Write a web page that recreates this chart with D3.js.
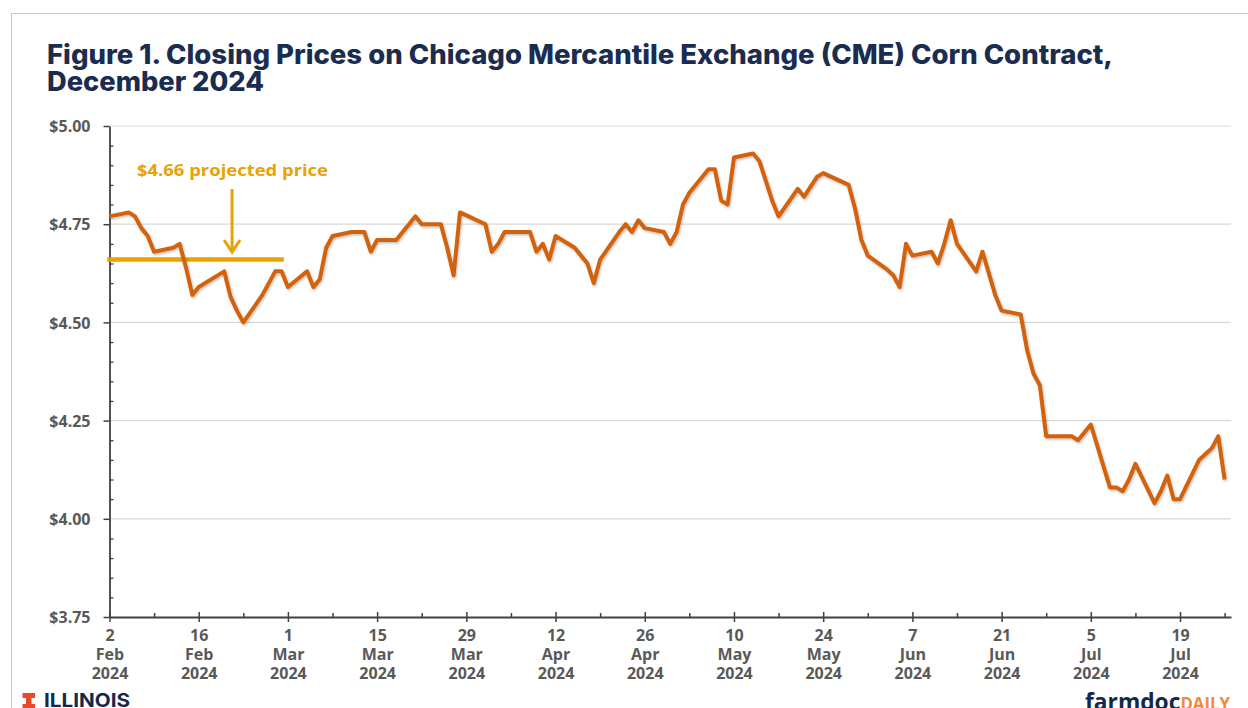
<!DOCTYPE html>
<html>
  <head>
    <meta charset="utf-8">
    <title>Closing Prices CME Corn December 2024</title>
    <script src="https://d3js.org/d3.v7.min.js"></script>
    <style>
      html, body { margin: 0; padding: 0; background: #fff; }
      svg { display: block; }
      .tick-label { font-family: "Open Sans", sans-serif; font-weight: 700; font-size: 16px; fill: #595959; }
    </style>
  </head>
  <body>
    <svg></svg>

    <script>
      // Closing prices, by trading day
      var febDates = ["02","05","06","07","08","09","12","13","14","15","16","20","21","22","23","26","27","28","29"];
      var febPrices = [4.77,4.78,4.77,4.74,4.72,4.68,4.69,4.70,4.64,4.57,4.59,4.63,4.565,4.53,4.50,4.57,4.60,4.63,4.63];

      var marDates = ["01","04","05","06","07","08","11","12","13","14","15","18","19","20","21","22","25","26","27","28"];
      var marPrices = [4.59,4.63,4.59,4.61,4.69,4.72,4.73,4.73,4.73,4.68,4.71,4.71,4.73,4.75,4.77,4.75,4.75,4.69,4.62,4.78];

      var aprDates = ["01","02","03","04","05","08","09","10","11","12","15","16","17","18","19","22","23","24","25","26","29","30"];
      var aprPrices = [4.75,4.68,4.70,4.73,4.73,4.73,4.68,4.70,4.66,4.72,4.69,4.67,4.65,4.60,4.66,4.73,4.75,4.73,4.76,4.74,4.73,4.70];

      var mayDates = ["01","02","03","06","07","08","09","10","13","14","15","16","17","20","21","22","23","24","28","29","30","31"];
      var mayPrices = [4.73,4.80,4.83,4.89,4.89,4.81,4.80,4.92,4.93,4.91,4.86,4.81,4.77,4.84,4.82,4.845,4.87,4.88,4.85,4.79,4.71,4.67];

      var junDates = ["03","04","05","06","07","10","11","12","13","14","17","18","20","21","24","25","26","27","28"];
      var junPrices = [4.635,4.62,4.59,4.70,4.67,4.68,4.65,4.70,4.76,4.70,4.63,4.68,4.57,4.53,4.52,4.43,4.37,4.34,4.21];

      var julDates = ["01","02","03","05","08","09","10","11","12","15","16","17","18","19","22","23","24","25","26"];
      var julPrices = [4.21,4.21,4.20,4.24,4.08,4.08,4.07,4.10,4.14,4.04,4.07,4.11,4.05,4.05,4.15,4.165,4.18,4.21,4.10];

      // Projected price line (February average)
      var projectedPrice = 4.66;
      var projectedDates = ["2024-02-02", "2024-02-29"];

      // Axis ticks
      var yTicks = [3.75, 4.00, 4.25, 4.50, 4.75, 5.00];
      var xTickDates = ["2024-02-02","2024-02-16","2024-03-01","2024-03-15","2024-03-29","2024-04-12","2024-04-26",
                        "2024-05-10","2024-05-24","2024-06-07","2024-06-21","2024-07-05","2024-07-19"];
      var xDomain = ["2024-02-02", "2024-07-27"];

      var parse = d3.timeParse("%Y-%m-%d");
      var months = [["02", febDates, febPrices], ["03", marDates, marPrices], ["04", aprDates, aprPrices],
                    ["05", mayDates, mayPrices], ["06", junDates, junPrices], ["07", julDates, julPrices]];
      var data = [];
      months.forEach(function(m) {
        m[1].forEach(function(d, i) {
          data.push({ date: parse("2024-" + m[0] + "-" + d), price: m[2][i] });
        });
      });

      var W = 1248, H = 708;
      var svg = d3.select("svg").attr("width", W).attr("height", H);

      // frame
      svg.append("rect")
        .attr("x", 11.5).attr("y", 13.5)
        .attr("width", 1300).attr("height", 800)
        .attr("fill", "none").attr("stroke", "#c6c6c6").attr("stroke-width", 1);

      // title
      var title = svg.append("g")
        .attr("font-family", "Inter, 'Open Sans', sans-serif")
        .attr("font-weight", 800)
        .attr("font-size", 26.5)
        .attr("fill", "#1b2c51");
      title.append("text").attr("x", 47).attr("y", 64)
        .text("Figure 1. Closing Prices on Chicago Mercantile Exchange (CME) Corn Contract,")
        .attr("textLength", 1066).attr("lengthAdjust", "spacingAndGlyphs");
      title.append("text").attr("x", 47).attr("y", 91)
        .text("December 2024")
        .attr("textLength", 217).attr("lengthAdjust", "spacingAndGlyphs");

      var x = d3.scaleTime()
        .domain(xDomain.map(parse))
        .range([109.5, 1231]);
      var y = d3.scaleLinear()
        .domain([3.75, 5.00])
        .range([617, 126]);

      // gridlines
      svg.append("g").selectAll("line")
        .data(yTicks.slice(1))
        .enter().append("line")
          .attr("x1", x.range()[0]).attr("x2", x.range()[1])
          .attr("y1", function(d) { return y(d); })
          .attr("y2", function(d) { return y(d); })
          .attr("stroke", "#d9d9d9").attr("stroke-width", 1.2);

      // y axis
      var yMinor = d3.range(3.80, 5.0, 0.05).filter(function(v) {
        return Math.abs(v * 4 - Math.round(v * 4)) > 0.01;
      });
      var yAxisMinor = svg.append("g")
        .attr("transform", "translate(" + x.range()[0] + ",0)")
        .call(d3.axisRight(y).tickValues(yMinor).tickSize(4).tickFormat(""));
      yAxisMinor.select(".domain").remove();
      yAxisMinor.selectAll("line").attr("stroke", "#404040").attr("stroke-width", 1.3);

      var yAxis = svg.append("g")
        .attr("transform", "translate(" + x.range()[0] + ",0)")
        .call(d3.axisLeft(y).tickValues(yTicks).tickSize(6).tickSizeOuter(0)
          .tickPadding(13).tickFormat(function(d) { return "$" + d.toFixed(2); }));
      yAxis.select(".domain").attr("stroke", "#404040").attr("stroke-width", 1.8);
      yAxis.selectAll(".tick line").attr("stroke", "#404040").attr("stroke-width", 1.5);
      yAxis.selectAll(".tick text").attr("class", "tick-label").attr("dy", "0.36em");

      // x axis
      var xMajor = xTickDates.map(parse);
      var xMinor = xMajor.map(function(d) { return d3.timeDay.offset(d, 7); });
      var xAxisMinor = svg.append("g")
        .attr("transform", "translate(0," + y(3.75) + ")")
        .call(d3.axisTop(x).tickValues(xMinor).tickSize(4).tickFormat(""));
      xAxisMinor.select(".domain").remove();
      xAxisMinor.selectAll("line").attr("stroke", "#404040").attr("stroke-width", 1.5);

      var xAxisUp = svg.append("g")
        .attr("transform", "translate(0," + y(3.75) + ")")
        .call(d3.axisTop(x).tickValues(xMajor).tickSize(5).tickFormat(""));
      xAxisUp.select(".domain").remove();
      xAxisUp.selectAll("line").attr("stroke", "#404040").attr("stroke-width", 1.5);

      var xAxis = svg.append("g")
        .attr("transform", "translate(0," + y(3.75) + ")")
        .call(d3.axisBottom(x).tickValues(xMajor).tickSize(5).tickSizeOuter(0).tickFormat(""));
      xAxis.select(".domain").attr("stroke", "#404040").attr("stroke-width", 1.8);
      xAxis.selectAll(".tick line").attr("stroke", "#404040").attr("stroke-width", 1.5);

      // three-line date labels, one text per line
      var fmtDay = d3.timeFormat("%-d"), fmtMon = d3.timeFormat("%b"), fmtYear = d3.timeFormat("%Y");
      var rows = [[24, fmtDay], [43, fmtMon], [62, fmtYear]];
      rows.forEach(function(r) {
        xAxis.selectAll(".tick").append("text")
          .attr("class", "tick-label")
          .attr("text-anchor", "middle")
          .attr("x", 0).attr("y", r[0])
          .text(function(d) { return r[1](d); });
      });

      // projected price line
      svg.append("line")
        .attr("x1", x(parse(projectedDates[0])))
        .attr("x2", x(parse(projectedDates[1])))
        .attr("y1", y(projectedPrice)).attr("y2", y(projectedPrice))
        .attr("stroke", "#e8a202").attr("stroke-width", 4.5)
        .attr("stroke-linecap", "square");

      // shadow filter for the price line
      var defs = svg.append("defs");
      var f = defs.append("filter").attr("id", "shadow")
        .attr("x", "-5%").attr("y", "-5%").attr("width", "110%").attr("height", "120%");
      f.append("feDropShadow").attr("dx", 1).attr("dy", 1.5).attr("stdDeviation", 1.2)
        .attr("flood-color", "#000").attr("flood-opacity", 0.25);

      var line = d3.line()
        .x(function(d) { return x(d.date); })
        .y(function(d) { return y(d.price); });

      svg.append("path")
        .datum(data)
        .attr("d", line)
        .attr("fill", "none")
        .attr("stroke", "#d2620a")
        .attr("stroke-width", 4)
        .attr("stroke-linejoin", "round")
        .attr("filter", "url(#shadow)");

      // annotation
      var arrowX = x(parse("2024-02-21")) + 1.5;
      svg.append("text")
        .attr("x", 137).attr("y", 176)
        .attr("font-family", "'Open Sans', sans-serif")
        .attr("font-weight", 700).attr("font-size", 16.5)
        .attr("fill", "#e8a202")
        .attr("textLength", 191).attr("lengthAdjust", "spacingAndGlyphs")
        .text("$4.66 projected price");
      svg.append("line")
        .attr("x1", arrowX).attr("x2", arrowX)
        .attr("y1", 189).attr("y2", 251)
        .attr("stroke", "#e8a202").attr("stroke-width", 3);
      svg.append("path")
        .attr("d", "M" + (arrowX - 8) + ",240 L" + arrowX + ",252 L" + (arrowX + 8) + ",240")
        .attr("fill", "none").attr("stroke", "#e8a202").attr("stroke-width", 3)
        .attr("stroke-linejoin", "miter");

      // logos (cut by the bottom edge, as in the original)
      svg.append("path")
        .attr("d", "M22.5,693 H35 V698 H31.5 V704 H35 V710 H22.5 V704 H26 V698 H22.5 Z")
        .attr("fill", "#e84a27");
      svg.append("text")
        .attr("x", 44).attr("y", 707)
        .attr("font-family", "Inter, 'Open Sans', sans-serif")
        .attr("font-weight", 700).attr("font-size", 18.5)
        .attr("fill", "#13294b")
        .attr("textLength", 86).attr("lengthAdjust", "spacingAndGlyphs")
        .text("ILLINOIS");

      var fd = svg.append("text")
        .attr("x", 1085).attr("y", 710)
        .attr("font-family", "'Open Sans', sans-serif")
        .attr("font-weight", 700)
        .attr("textLength", 145).attr("lengthAdjust", "spacingAndGlyphs");
      fd.append("tspan").attr("font-size", 23).attr("fill", "#13294b").text("farmdoc");
      fd.append("tspan").attr("font-size", 17).attr("fill", "#f08a3c").text("DAILY");
    </script>
  </body>
</html>
